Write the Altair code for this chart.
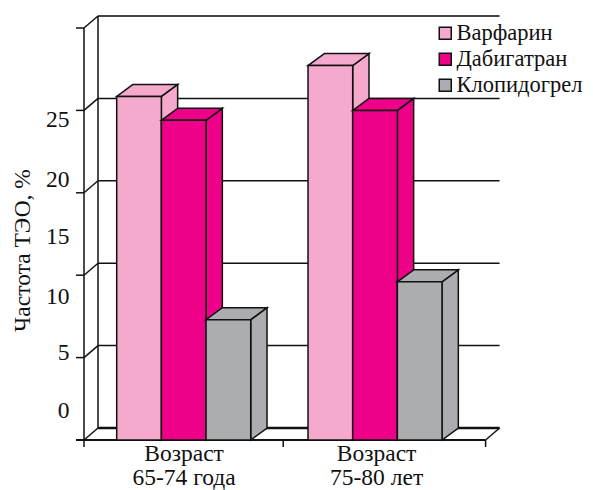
import altair as alt
import pandas as pd

# ---- data
groups = ["Возраст 65-74 года", "Возраст 75-80 лет"]
series = ["Варфарин", "Дабигатран", "Клопидогрел"]
colors = ["#F5A9CC", "#EE0089", "#ABADB1"]
values = {
    "Варфарин": [20.85, 22.72],
    "Дабигатран": [19.4, 20.0],
    "Клопидогрел": [7.3, 9.6],
}
y_ticks = [0, 5, 10, 15, 20, 25]
y_tick_labels = ["0", "5", "10", "15", "20", "25"]
y_label_pos = [1.76, 5.3, 8.7, 12.3, 15.8, 19.4]   # labels sit off their ticks in the source
x_label_line1 = ["Возраст", "Возраст"]
x_label_line2 = ["65-74 года", "75-80 лет"]
x_label_pos = [2.24, 6.55]
x_ticks = [0, 4.46, 8.99]
group_start = [0.732, 5.015]

# ---- layout
W, H = 577, 482
PX_X = 44.67            # px for one bar width
PX_Y = 16.48            # px for one unit of value
X0_PX, Y0_PX = 76, 432  # where x=0 and value=0 fall in the plot
wall_dx = 14 / PX_X
wall_dy = 12 / PX_Y
bar_dx = 16.3 / PX_X
bar_dy = 12 / PX_Y
FONT = "Liberation Serif"
FS = 23.5
LEGEND_FS = 22.5
INK = "#111111"

xs = alt.Scale(domain=[-X0_PX / PX_X, (W - X0_PX) / PX_X], range=[0, W], nice=False, zero=False)
ys = alt.Scale(domain=[-(H - Y0_PX) / PX_Y, Y0_PX / PX_Y], range=[H, 0], nice=False, zero=False)
X = lambda f: alt.X(f, type="quantitative", scale=xs, axis=None)
Y = lambda f: alt.Y(f, type="quantitative", scale=ys, axis=None)


def segs(rows, width=1.5, color=INK):
    return alt.Chart(pd.DataFrame(rows, columns=["x", "x2", "y", "y2"])).mark_rule(
        color=color, strokeWidth=width
    ).encode(x=X("x"), x2="x2", y=Y("y"), y2="y2")


layers = []
x_end = x_ticks[-1]
top = y_ticks[-1]

# back wall grid lines, connectors, tick marks, axes
layers.append(segs([[wall_dx, x_end + wall_dx, v + wall_dy, v + wall_dy] for v in y_ticks[1:-1]]))
layers.append(segs([[wall_dx, x_end + wall_dx, top + wall_dy, top + wall_dy]], width=2, color="#444444"))
layers.append(segs([[wall_dx, x_end + wall_dx, wall_dy, wall_dy]], width=2.5))
layers.append(segs([[0, wall_dx, v, v + wall_dy] for v in y_ticks]))
layers.append(segs([[-8 / PX_X, 0, v, v] for v in y_ticks]))
layers.append(segs([[0, 0, 0, top], [wall_dx, wall_dx, wall_dy, top + wall_dy]]))
layers.append(segs([[x_end, x_end + wall_dx, 0, wall_dy]]))
layers.append(segs([[-8 / PX_X, x_end, 0, 0]], width=2))
layers.append(segs([[t, t, 0, -7 / PX_Y] for t in x_ticks]))

# bars, drawn left to right so that each front face hides its neighbour's side
color_scale = alt.Scale(domain=series, range=colors)
legend = alt.Legend(
    title=None, orient="none", legendX=426, legendY=14, symbolType="square", symbolSize=144,
    symbolStrokeColor=INK, symbolStrokeWidth=1.5, symbolOpacity=1,
    labelFont=FONT, labelFontSize=LEGEND_FS, labelColor=INK, labelOffset=0, labelLimit=200,
    rowPadding=3, padding=0,
)
for g, start in enumerate(group_start):
    for s, name in enumerate(series):
        v = values[name][g]
        x0 = start + s
        x1 = x0 + 1
        side = pd.DataFrame({"x": [x1, x1 + bar_dx], "y": [v, v + bar_dy], "y2": [0, bar_dy]})
        lid = pd.DataFrame({"y": [v, v + bar_dy], "x": [x0, x0 + bar_dx], "x2": [x1, x1 + bar_dx]})
        front = pd.DataFrame({"x": [x0], "x2": [x1], "y": [v], "y2": [0], "series": [name]})
        face = dict(color=colors[s], stroke=INK, strokeWidth=1.5, opacity=1)
        layers.append(alt.Chart(side).mark_area(**face).encode(x=X("x"), y=Y("y"), y2="y2"))
        layers.append(alt.Chart(lid).mark_area(orient="horizontal", **face).encode(x=X("x"), x2="x2", y=Y("y")))
        layers.append(
            alt.Chart(front).mark_rect(stroke=INK, strokeWidth=1.5, opacity=1).encode(
                x=X("x"), x2="x2", y=Y("y"), y2="y2",
                fill=alt.Fill("series:N", scale=color_scale, legend=legend),
            )
        )

# text
txt = dict(font=FONT, fontSize=FS, color=INK)
layers.append(
    alt.Chart(pd.DataFrame({"y": y_label_pos, "t": y_tick_labels, "x": [-14.5 / PX_X] * 6}))
    .mark_text(align="right", baseline="middle", **txt)
    .encode(x=X("x"), y=Y("y"), text="t:N")
)
layers.append(
    alt.Chart(pd.DataFrame({"x": x_label_pos, "t": x_label_line1, "y": [-14 / PX_Y] * 2}))
    .mark_text(align="center", baseline="middle", **txt)
    .encode(x=X("x"), y=Y("y"), text="t:N")
)
layers.append(
    alt.Chart(pd.DataFrame({"x": x_label_pos, "t": x_label_line2, "y": [-38 / PX_Y] * 2}))
    .mark_text(align="center", baseline="middle", **txt)
    .encode(x=X("x"), y=Y("y"), text="t:N")
)
layers.append(
    alt.Chart(pd.DataFrame({"x": [-61 / PX_X], "y": [11.5], "t": ["Частота ТЭО, %"]}))
    .mark_text(align="center", baseline="middle", angle=270, **txt)
    .encode(x=X("x"), y=Y("y"), text="t:N")
)

chart = (
    alt.layer(*layers)
    .properties(width=W, height=H, padding=0, autosize=alt.AutoSizeParams(type="none"))
    .configure_view(stroke=None)
)
chart.save("out.html", embed_options={"renderer": "svg", "actions": False})
